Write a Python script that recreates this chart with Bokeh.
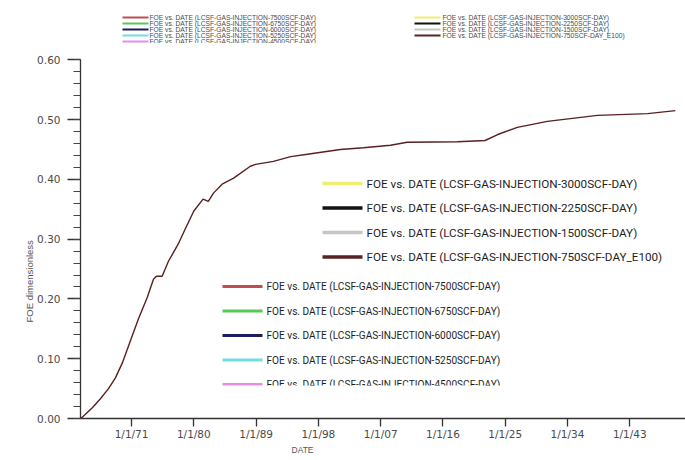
from math import pi

import pandas as pd
from bokeh.embed import file_html
from bokeh.layouts import column
from bokeh.models import (BoxAnnotation, CustomJSTickFormatter, FixedTicker, Label,
                          NumeralTickFormatter, Range1d, SingleIntervalTicker, Title)
from bokeh.plotting import figure
from bokeh.resources import INLINE

# Field oil efficiency (FOE) over time for the gas-injection cases
dates = [
    "1963-09-01", "1964-05-01", "1965-05-01", "1966-07-01", "1967-09-01", "1968-09-01",
    "1969-09-01", "1970-11-01", "1972-01-01", "1973-04-01", "1974-03-01", "1974-08-01",
    "1975-06-01", "1976-05-01", "1977-10-01", "1978-09-01", "1980-01-01", "1981-05-01",
    "1982-02-01", "1982-11-01", "1984-02-01", "1985-10-01", "1988-03-01", "1988-12-01",
    "1991-07-01", "1994-01-01", "1996-06-01", "2001-03-01", "2004-07-01", "2008-06-01",
    "2010-11-01", "2018-02-01", "2022-02-01", "2023-12-01", "2026-10-01", "2031-02-01",
    "2038-05-01", "2045-08-01", "2049-08-01",
]
foe = [
    0.000, 0.007, 0.018, 0.033, 0.050, 0.068,
    0.093, 0.130, 0.167, 0.202, 0.233, 0.238,
    0.238, 0.263, 0.292, 0.315, 0.347, 0.367,
    0.363, 0.377, 0.392, 0.402, 0.422, 0.425,
    0.430, 0.438, 0.442, 0.450, 0.453, 0.457,
    0.462, 0.463, 0.465, 0.475, 0.487, 0.497,
    0.507, 0.510, 0.515,
]

tick_dates = ["1971-01-01", "1980-01-01", "1989-01-01", "1998-01-01", "2007-01-01",
              "2016-01-01", "2025-01-01", "2034-01-01", "2043-01-01"]

# Injection cases shown in the legends
cases_high = ["7500SCF-DAY", "6750SCF-DAY", "6000SCF-DAY", "5250SCF-DAY", "4500SCF-DAY"]
colors_high = ["#c24d4d", "#58c858", "#1d1d5e", "#74dce4", "#e68ee6"]
cases_low = ["3000SCF-DAY", "2250SCF-DAY", "1500SCF-DAY", "750SCF-DAY_E100"]
colors_low = ["#eeee70", "#111111", "#c6c6c6", "#5b2424"]

W, H = 685, 460
STRIP = 43                      # height of the legend strip above the chart
LEFT, TOP, BOTTOM = 80, 59, 42  # chart frame margins, measured on the whole page
FRAME_BOTTOM = H - BOTTOM

SANS = "'Liberation Sans', Arial, sans-serif"
LEGEND_FONT = "Roboto"
TICK_FONT = "DejaVu Sans"


def ms(s):
    return pd.Timestamp(s).value / 1e6


def entry(name):
    return f"FOE  vs.  DATE (LCSF-GAS-INJECTION-{name})"


def make_label(fig_sx, fig_sy, px, py, text, size, font, color, **kw):
    opts = dict(text_align="left", text_baseline="middle")
    opts.update(kw)
    return Label(x=fig_sx(px), y=fig_sy(py), x_units="screen", y_units="screen",
                 text=text, text_font=font, text_font_size=f"{size}px",
                 text_color=color, **opts)


def make_box(fig_sx, fig_sy, x0, x1, y0, y1, color):
    return BoxAnnotation(left=fig_sx(x0), right=fig_sx(x1),
                         bottom=fig_sy(y1), top=fig_sy(y0),
                         left_units="screen", right_units="screen",
                         bottom_units="screen", top_units="screen",
                         fill_color=color, fill_alpha=1.0, line_color=None)


# ---------------------------------------------------------------- legend strip
top = figure(width=W, height=STRIP, x_range=Range1d(0, W), y_range=Range1d(0, STRIP),
             x_axis_location=None, y_axis_location=None, min_border=0,
             output_backend="svg", toolbar_location=None)
top.outline_line_color = None
top.grid.grid_line_color = None


def tx(px):
    return px


def ty(py):
    return STRIP - py


for i, (name, col) in enumerate(zip(cases_high, colors_high)):
    y = 17 + 6 * i
    top.add_layout(make_box(tx, ty, 42, 68, y - 1, y + 1, col))
    top.add_layout(make_label(tx, ty, 69, y, entry(name), 6.7, SANS, "#4a4a4a"))
for i, (name, col) in enumerate(zip(cases_low, colors_low)):
    y = 17 + 6 * i
    top.add_layout(make_box(tx, ty, 334, 360, y - 1, y + 1, col))
    top.add_layout(make_label(tx, ty, 362, y, entry(name), 6.7, SANS, "#4a4a4a"))

# ---------------------------------------------------------------- main chart
p = figure(width=W, height=H - STRIP, x_axis_type="datetime",
           x_range=Range1d(ms("1963-08-15"), ms("2051-01-20")),
           y_range=Range1d(0, 0.6005),
           min_border_left=LEFT, min_border_right=0,
           min_border_top=TOP - STRIP, min_border_bottom=BOTTOM,
           output_backend="svg", toolbar_location=None)
p.outline_line_color = None
p.xgrid.grid_line_color = None
p.ygrid.grid_line_color = None

p.line(x=pd.to_datetime(dates), y=foe, line_color="#5a1f1f", line_width=1.4)

# x axis: dates every nine years
xa = p.xaxis[0]
xa.ticker = FixedTicker(ticks=[ms(d) for d in tick_dates], minor_ticks=[])
xa.formatter = CustomJSTickFormatter(code="""
const d = new Date(tick);
return (d.getUTCMonth() + 1) + "/" + d.getUTCDate() + "/" + String(d.getUTCFullYear()).slice(-2);
""")
xa.major_tick_out = 8
xa.major_tick_in = 0
xa.minor_tick_out = 0
xa.major_label_standoff = 1

# y axis: FOE fraction
ya = p.yaxis[0]
ya.ticker = SingleIntervalTicker(interval=0.1, num_minor_ticks=5)
ya.formatter = NumeralTickFormatter(format="0.00")
ya.major_tick_out = 13
ya.major_tick_in = 0
ya.minor_tick_out = 7
ya.minor_tick_in = 0
ya.major_label_standoff = 7

for ax in (xa, ya):
    ax.axis_line_color = "#333333"
    ax.axis_line_width = 1.3
    ax.major_tick_line_color = "#333333"
    ax.major_tick_line_width = 1.3
    ax.minor_tick_line_color = "#444444"
    ax.major_label_text_font = TICK_FONT
    ax.major_label_text_font_size = "10.5px"
    ax.major_label_text_color = "#4a4a4a"

# axis titles
p.add_layout(Title(text="FOE  dimensionless", align="left", offset=96,
                   text_font=SANS, text_font_size="9.5px", text_font_style="normal",
                   text_color="#555555", standoff=0), "left")
p.add_layout(Title(text="DATE", align="left", offset=211,
                   text_font=SANS, text_font_size="8.5px", text_font_style="normal",
                   text_color="#555555", standoff=0), "below")


def sx(px):
    return px - LEFT


def sy(py):
    return FRAME_BOTTOM - py


# legend for the low-rate cases
for i, (name, col) in enumerate(zip(cases_low, colors_low)):
    y = 183 + 24.5 * i
    p.add_layout(make_box(sx, sy, 322, 362, y - 1.75, y + 1.75, col))
    p.add_layout(make_label(sx, sy, 366, y, entry(name), 11.7, LEGEND_FONT, "#1e1e1e"))

# legend for the high-rate cases
for i, (name, col) in enumerate(zip(cases_high, colors_high)):
    y = 286 + 24.5 * i
    p.add_layout(make_box(sx, sy, 222, 262, y - 1.5, y + 1.5, col))
    p.add_layout(make_label(sx, sy, 266, y, entry(name), 10.1, LEGEND_FONT, "#1e1e1e"))
p.add_layout(make_box(sx, sy, 215, 520, 385, 398, "white"))

open("out.html", "w").write(file_html(column(top, p, spacing=0), INLINE))
